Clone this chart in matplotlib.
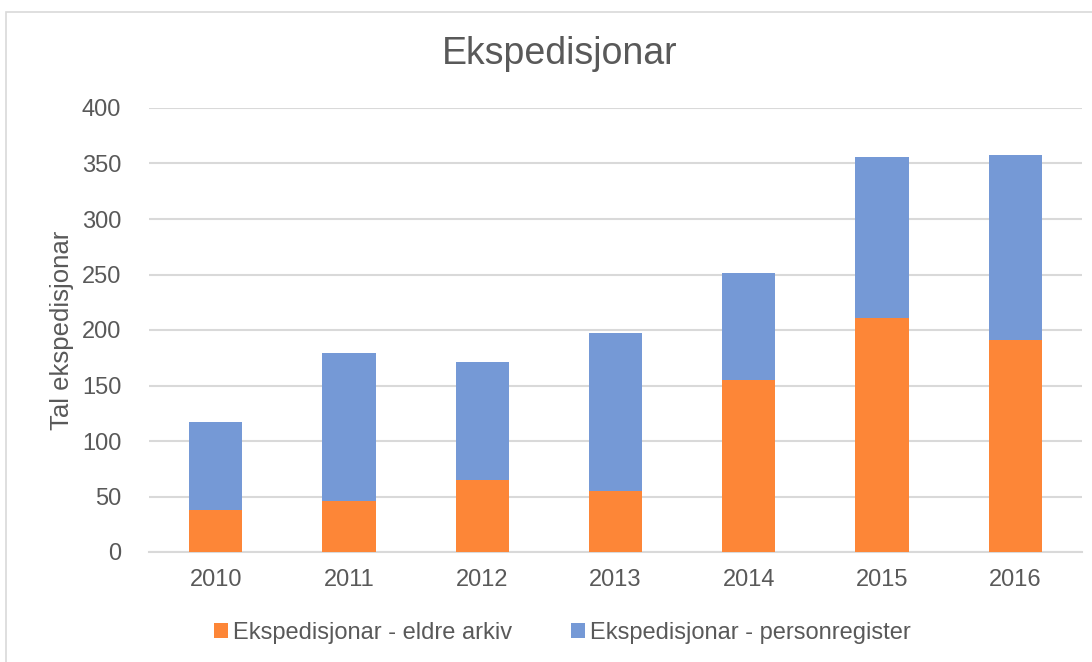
import matplotlib.pyplot as plt
from matplotlib.patches import Rectangle

years = ["2010", "2011", "2012", "2013", "2014", "2015", "2016"]
eldre_arkiv = [38, 46, 65, 55, 155, 211, 191]
totals = [117, 179, 171, 197, 251, 356, 358]
personregister = [t - e for t, e in zip(totals, eldre_arkiv)]

plt.rcParams['font.family'] = ['Liberation Sans', 'DejaVu Sans']
text_col = '#595959'
orange = '#fd8637'
blue = '#7599d6'

fig = plt.figure(figsize=(10.92, 6.62), dpi=100)
W, H = 1092, 662
ax = fig.add_axes([149 / W, 1 - 552 / H, (1082 - 149) / W, (552 - 108) / H])

# chart border
fig.patches.append(Rectangle((6 / W, -0.1), 1.2, 1 - 12 / H + 0.1,
                             transform=fig.transFigure, fill=False,
                             edgecolor='#d9d9d9', linewidth=1.2))

x = range(len(years))
ax.bar(x, eldre_arkiv, width=0.40, color=orange, zorder=3,
       label="Ekspedisjonar - eldre arkiv")
ax.bar(x, personregister, width=0.40, bottom=eldre_arkiv, color=blue, zorder=3,
       label="Ekspedisjonar - personregister")

ax.set_xlim(-0.5, len(years) - 0.5)
ax.set_ylim(0, 400)
ax.set_yticks(range(0, 401, 50))
ax.set_xticks(list(x))
ax.set_xticklabels(years)
ax.grid(axis='y', color='#d9d9d9', linewidth=1.5, zorder=0)
for s in ['top', 'right', 'left']:
    ax.spines[s].set_visible(False)
ax.spines['bottom'].set_color('#d9d9d9')
ax.spines['bottom'].set_linewidth(1.5)
ax.tick_params(length=0, labelsize=17, labelcolor=text_col)
ax.tick_params(axis='y', pad=20)
ax.tick_params(axis='x', pad=12)

ax.set_ylabel("Tal ekspedisjonar", fontsize=18.5, color=text_col, labelpad=6)
fig.text(560 / W, 1 - 54 / H, "Ekspedisjonar", ha='center', va='center',
         fontsize=27, color=text_col)

fig.legend(loc='center', bbox_to_anchor=(562 / W, 1 - 633 / H), ncol=2,
           frameon=False, fontsize=17, labelcolor=text_col,
           handlelength=0.6, handleheight=0.6, handletextpad=0.2,
           columnspacing=2.5)

fig.savefig("out.png", dpi=100)
